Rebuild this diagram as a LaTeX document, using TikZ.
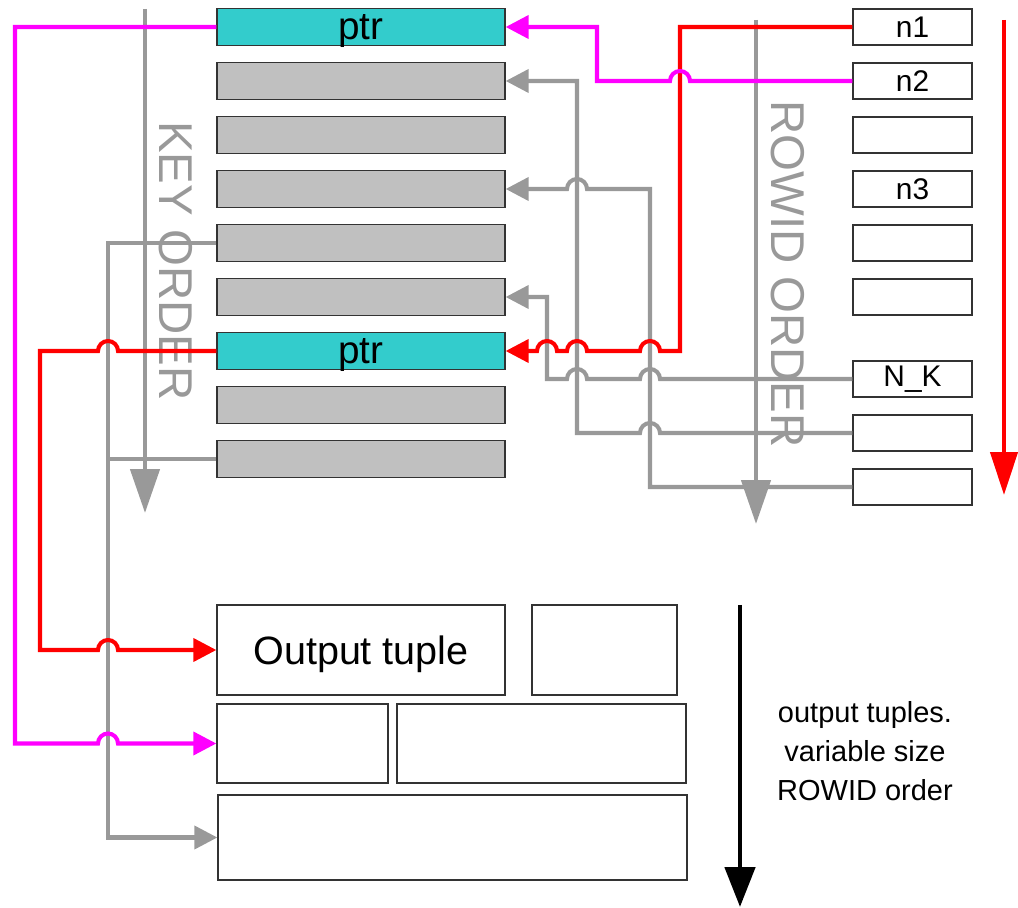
\documentclass[tikz,border=0pt]{standalone}
\usepackage{fontspec}
\setmainfont{Liberation Sans}
\usetikzlibrary{positioning,arrows.meta,calc}

\definecolor{linegray}{HTML}{999999}
\definecolor{slotgray}{HTML}{C0C0C0}
\definecolor{ptrcyan}{HTML}{33CCCC}
\definecolor{linkpink}{HTML}{FF00FF}

% line hops over a vertical lane (line running left / running right)
\newcommand{\hopleft}[1]{-- ([xshift=0.2cm]#1) arc[start angle=0, end angle=180, radius=0.2cm]}
\newcommand{\hopright}[1]{-- ([xshift=-0.2cm]#1) arc[start angle=180, end angle=0, radius=0.2cm]}

\begin{document}
\begin{tikzpicture}[x=0.02cm, y=-0.02cm,
    cell/.style={draw=black!80, line width=0.8pt, inner sep=0pt},
    keyslot/.style={cell, fill=slotgray, minimum width=5.76cm, minimum height=0.74cm, text depth=0pt, font=\fontsize{22}{26}\selectfont},
    ptrslot/.style={keyslot, fill=ptrcyan},
    rowslot/.style={cell, fill=white, minimum width=2.38cm, minimum height=0.72cm, font=\fontsize{17}{20}\selectfont},
    tuple/.style={cell, fill=white},
    link/.style={line width=2.3pt, -{Triangle[length=0.46cm, width=0.46cm]}},
    order/.style={line width=2.6pt, -{Triangle[length=0.88cm, width=0.58cm]}},
    ordertext/.style={rotate=-90, text=linegray, font=\fontsize{27}{32}\selectfont},
]
\useasboundingbox (0,0) rectangle (1018,908);

% Key ordered slots
\foreach \i/\kind/\txt in {1/ptrslot/ptr,2/keyslot/,3/keyslot/,4/keyslot/,5/keyslot/,6/keyslot/,7/ptrslot/ptr,8/keyslot/,9/keyslot/}
    \node[\kind] (k\i) at (361, {27+54*(\i-1)}) {\txt};

% ROWID ordered slots
\foreach \i/\y/\txt in {1/27/n1,2/81/n2,3/135/,4/189/n3,5/243/,6/297/,7/379/N\_K,8/433/,9/487/}
    \node[rowslot] (r\i) at (912.5,\y) {\txt};

% Output tuples (variable size)
\node[tuple, minimum width=5.76cm, minimum height=1.8cm, text depth=0pt, font=\fontsize{22.5}{27}\selectfont] (out1) at (361,650) {Output tuple};
\node[tuple, minimum width=2.9cm, minimum height=1.8cm] (out2) at (604.5,650) {};
\node[tuple, minimum width=3.42cm, minimum height=1.58cm] (out3) at (302.5,743.5) {};
\node[tuple, minimum width=5.78cm, minimum height=1.58cm] (out4) at (541.5,743.5) {};
\node[tuple, minimum width=9.38cm, minimum height=1.7cm] (out5) at (452.5,837.5) {};

% Order arrows
\coordinate (keytop) at (145,9);
\coordinate (keyend) at (145,513);
\draw[order, linegray] (keytop) -- (keyend);
\node[ordertext] (keylabel) at (176,261) {KEY ORDER};

\coordinate (rowtop) at (756,20);
\coordinate (rowend) at (756,524);
\draw[order, linegray] (rowtop) -- (rowend);
\node[ordertext] (rowlabel) at (788,274) {ROWID ORDER};

\coordinate (scantop) at (1004,20);
\coordinate (scanend) at (1004,495);
\draw[red, line width=2.5pt, -{Triangle[length=0.86cm, width=0.54cm]}] (scantop) -- (scanend);

\coordinate (outtop) at (740,605);
\coordinate (outend) at (740,907);
\draw[black, line width=2.8pt, -{Triangle[length=0.8cm, width=0.6cm]}] (outtop) -- (outend);
\node[align=center, font=\fontsize{16.5}{22}\selectfont] (outnote) at (865,751)
    {output tuples.\\variable size\\ROWID order};

% Vertical lanes of the connectors
\coordinate (laneK) at (547,0);
\coordinate (laneL) at (577,0);
\coordinate (laneP) at (597,0);
\coordinate (laneM) at (650,0);
\coordinate (laneR) at (680,0);
\coordinate (laneG) at (108,0);
\coordinate (laneRL) at (40,0);
\coordinate (laneML) at (15,0);

% ROWID slots back to key slots
\draw[link, linegray] (r9.west) -| (laneM |- k4.east) \hopleft{laneL |- k4.east} -- (k4.east);
\draw[link, linegray] (r8.west) \hopleft{laneM |- r8.west} -- (laneL |- r8.west) |- (k2.east);
\draw[link, linegray] (r7.west) \hopleft{laneM |- r7.west} \hopleft{laneL |- r7.west} -- (laneK |- r7.west) |- (k6.east);
\draw[link, red] (r1.west) -| (laneR |- k7.east) \hopleft{laneM |- k7.east} \hopleft{laneL |- k7.east} \hopleft{laneK |- k7.east} -- (k7.east);
\draw[link, linkpink] (r2.west) \hopleft{laneR |- r2.west} -- (laneP |- r2.west) |- (k1.east);

% Key slots to output tuples
\draw[link, linegray] (k5.west) -| (laneG |- out5.west) -- (out5.west);
\draw[line width=2.3pt, linegray] (k9.west) -- (laneG |- k9.west);
\draw[link, red] (k7.west) \hopleft{laneG |- k7.west} -- (laneRL |- k7.west)
    -- (laneRL |- out1.west) \hopright{laneG |- out1.west} -- (out1.west);
\draw[link, linkpink] (k1.west) -- (laneML |- k1.west)
    -- (laneML |- out3.west) \hopright{laneG |- out3.west} -- (out3.west);
\end{tikzpicture}
\end{document}
